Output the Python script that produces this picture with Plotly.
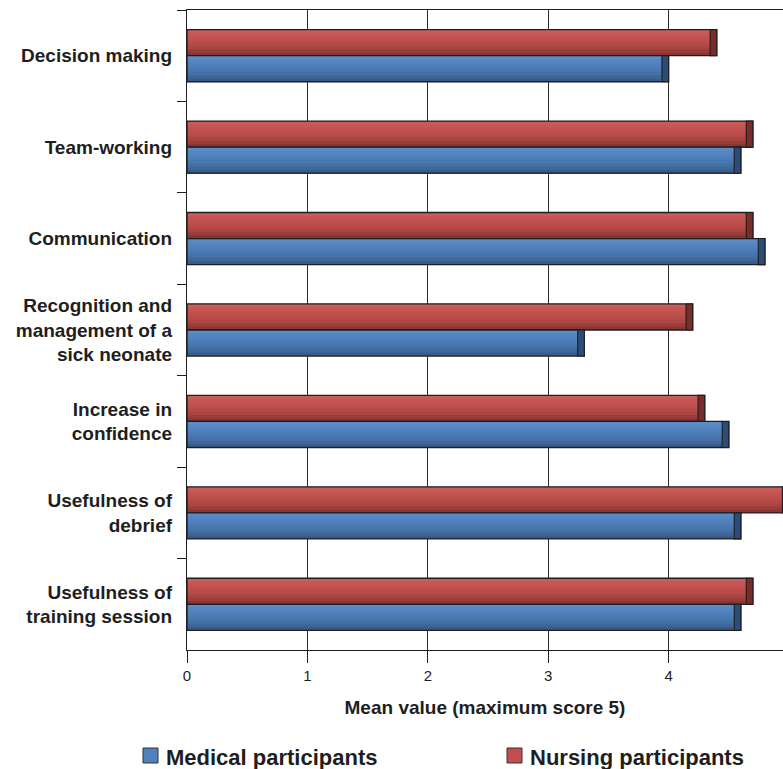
import plotly.graph_objects as go

# Survey items (top to bottom) and mean scores per participant group
categories = [
    "Decision making",
    "Team-working",
    "Communication",
    "Recognition and<br>management of a<br>sick neonate",
    "Increase in<br>confidence",
    "Usefulness of<br>debrief",
    "Usefulness of<br>training session",
]
medical = [4.0, 4.6, 4.8, 3.3, 4.5, 4.6, 4.6]
nursing = [4.4, 4.7, 4.7, 4.2, 4.3, 5.0, 4.7]
x_ticks = [0, 1, 2, 3, 4, 5]

W, H = 783, 769
L, R, T, B = 187, 0, 10, 119
PW, PH = W - L - R, H - T - B

FONT = "Liberation Sans, Arial, sans-serif"
INK = "#1e1e1e"

BAR_H = 0.285   # thickness of one bar, in category units
CAP = 0.055     # depth of the end face of a cylinder, in value units

# cylinder shading, light at the top edge to dark at the bottom edge
red_shades = ["#c95d5a", "#c65653", "#c2524f", "#bd4e4b", "#b54a47",
              "#aa4542", "#9b3e3b", "#883533"]
blue_shades = ["#5c8bc5", "#5686c1", "#5182be", "#4d7db8", "#4877af",
               "#4470a5", "#3e6797", "#375c87"]

series = [
    ("Nursing participants", nursing, -BAR_H, red_shades, "#7a2c2a"),
    ("Medical participants", medical, 0.0, blue_shades, "#2c4d78"),
]

fig = go.Figure()
n = len(red_shades)
for name, vals, off, shades, cap_col in series:
    # each shade band runs from its own top edge down to the bottom of the
    # bar, so the next (darker) band overlaps it and no gaps show
    for i, col in enumerate(shades):
        top = off + i * BAR_H / n
        fig.add_trace(go.Bar(
            y=categories, x=vals, orientation="h",
            offset=top, width=off + BAR_H - top,
            marker=dict(color=col, line=dict(width=0)),
            showlegend=False, hoverinfo="skip", name=name,
        ))
    # outline of the cylinder body
    fig.add_trace(go.Bar(
        y=categories, x=vals, orientation="h",
        offset=off, width=BAR_H,
        marker=dict(color="rgba(0,0,0,0)", line=dict(color=INK, width=1.3)),
        showlegend=False, name=name,
        hovertemplate="%{y}: %{x}<extra>" + name + "</extra>",
    ))
    # darker end face of the cylinder
    fig.add_trace(go.Bar(
        y=categories, x=[CAP] * len(vals), base=[v - CAP for v in vals],
        orientation="h", offset=off, width=BAR_H,
        marker=dict(color=cap_col, line=dict(color=INK, width=1.1)),
        showlegend=False, hoverinfo="skip", name=name,
    ))


def px_x(px):
    return (px - L) / PW


def px_y(py):
    return (H - B - py) / PH


# legend drawn below the axis title
legend_items = [
    ("Medical participants", "#4f81bd", 143),
    ("Nursing participants", "#c0504d", 507),
]
for label, col, x0 in legend_items:
    fig.add_shape(type="rect", xref="paper", yref="paper",
                  x0=px_x(x0), x1=px_x(x0 + 15), y0=px_y(748), y1=px_y(763),
                  fillcolor=col, line=dict(color="#333333", width=1))
    fig.add_annotation(xref="paper", yref="paper", x=px_x(x0 + 21), y=px_y(757),
                       xanchor="left", yanchor="middle", showarrow=False,
                       text=label,
                       font=dict(family=FONT, size=22, color=INK, weight="bold"))

fig.update_layout(
    template="none",
    width=W, height=H,
    margin=dict(l=L, r=R, t=T, b=B, pad=0),
    paper_bgcolor="white", plot_bgcolor="white",
    barmode="overlay",
    showlegend=False,
    font=dict(family=FONT, color=INK),
)

fig.update_xaxes(
    range=[0, PW / 120.4],
    tickvals=x_ticks, ticktext=[str(t) for t in x_ticks],
    ticks="outside", ticklen=12, tickwidth=1.3, tickcolor=INK,
    showline=True, linecolor=INK, linewidth=1.3, mirror=True,
    showgrid=True, gridcolor="#2a2a2a", gridwidth=1.2,
    zeroline=False, automargin=False,
    tickfont=dict(family=FONT, size=15, color=INK),
    title=dict(text="Mean value (maximum score 5)", standoff=17,
               font=dict(family=FONT, size=19, color=INK, weight="bold")),
)
fig.update_yaxes(
    type="category", categoryorder="array", categoryarray=categories,
    autorange="reversed",
    tickson="boundaries", ticks="outside", ticklen=9, tickwidth=1.3,
    tickcolor=INK, showline=True, linecolor=INK, linewidth=1.3,
    showgrid=False, zeroline=False, automargin=False,
    ticklabelstandoff=10,
    tickfont=dict(family=FONT, size=19, color=INK, weight="bold"),
)

fig.write_html("out.html")
